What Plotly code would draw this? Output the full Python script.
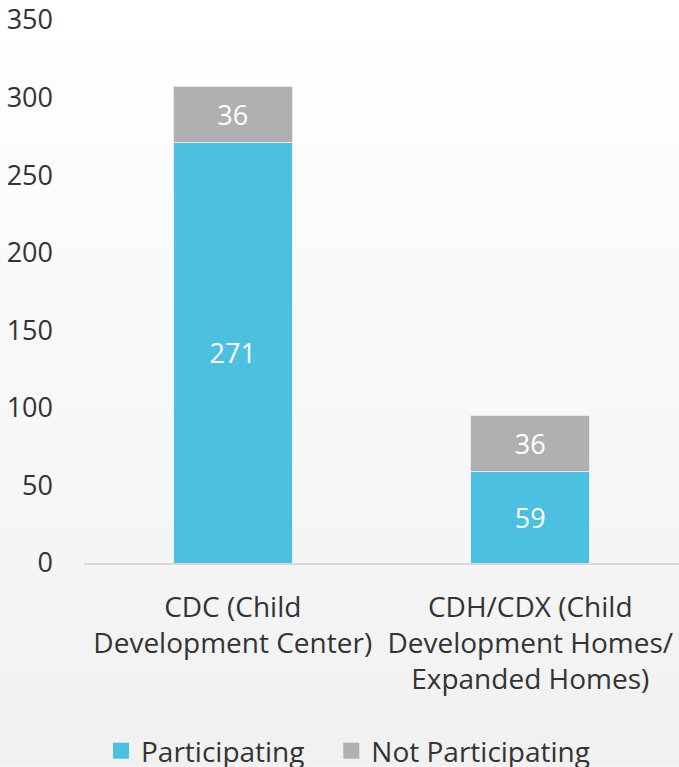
import plotly.graph_objects as go

categories = ["CDC (Child<br>Development Center)",
              "CDH/CDX (Child<br>Development Homes/<br>Expanded Homes)"]
participating = [271, 59]
not_participating = [36, 36]
y_ticks = [0, 50, 100, 150, 200, 250, 300, 350]
series_names = ["Participating", "Not Participating"]

FONT = "Open Sans"
TXT = "#333333"
BLUE = "#4BC0E0"
GREY = "#B0B0B0"

fig = go.Figure()
fig.add_trace(go.Bar(
    name=series_names[0], x=categories, y=participating,
    marker=dict(color=BLUE, line=dict(color="#e6f4f8", width=1)),
    text=participating, textposition="inside", insidetextanchor="middle",
    textfont=dict(color="white", size=27, family=FONT),
    width=0.4, showlegend=False,
))
fig.add_trace(go.Bar(
    name=series_names[1], x=categories, y=not_participating,
    marker=dict(color=GREY, line=dict(color="#e8e8e8", width=1)),
    text=not_participating, textposition="inside", insidetextanchor="middle",
    textfont=dict(color="white", size=27, family=FONT),
    width=0.4, showlegend=False,
))
# legend entries with larger square symbols (extra spacing after first entry)
legend_labels = [series_names[0] + "\u00a0\u00a0\u00a0", series_names[1]]
for nm, col in zip(legend_labels, [BLUE, GREY]):
    fig.add_trace(go.Scatter(
        x=[None], y=[None], mode="markers", name=nm,
        marker=dict(symbol="square", size=16, color=col, line=dict(width=0)),
        showlegend=True,
    ))

# vertical gradient background (white at top -> light grey at bottom)
H = 767
top_m, bot_m = 17, 204
plot_h = H - top_m - bot_m
shapes = []
n = 60
for i in range(n):
    t = i / (n - 1)
    v = int(round(255 - (255 - 241) * t))
    py0 = H * i / n
    py1 = H * (i + 1) / n + 1
    shapes.append(dict(type="rect", xref="paper", yref="paper",
                       x0=-1, x1=2,
                       y1=(H - bot_m - py0) / plot_h,
                       y0=(H - bot_m - py1) / plot_h,
                       layer="below", line=dict(width=0),
                       fillcolor=f"rgb({v},{v},{v})"))

fig.update_layout(
    width=679, height=767,
    barmode="stack",
    showlegend=True,
    paper_bgcolor="white",
    plot_bgcolor="rgba(0,0,0,0)",
    shapes=shapes,
    margin=dict(l=84, r=0, t=top_m, b=bot_m),
    font=dict(family=FONT, color=TXT, size=27),
    xaxis=dict(
        showline=True, linecolor="#d9d9d9", linewidth=2,
        tickfont=dict(size=28, color=TXT, family=FONT),
        ticks="", ticklabelstandoff=18,
        showgrid=False, zeroline=False,
    ),
    yaxis=dict(
        range=[0, 350], tickvals=y_ticks,
        showgrid=False, zeroline=False, showline=False,
        tickfont=dict(size=27, color=TXT, family=FONT),
        ticks="", ticklabelstandoff=30, ticklabeloverflow="allow",
    ),
    legend=dict(
        orientation="h", xref="container", yref="container",
        x=101 / 679, xanchor="left", y=16 / 767, yanchor="middle",
        font=dict(size=28, color=TXT, family=FONT),
        bgcolor="rgba(0,0,0,0)", traceorder="normal",
        itemwidth=30,
    ),
)

fig.write_html("out.html", config={"displayModeBar": False},
               post_script="document.body.style.margin='0';")
